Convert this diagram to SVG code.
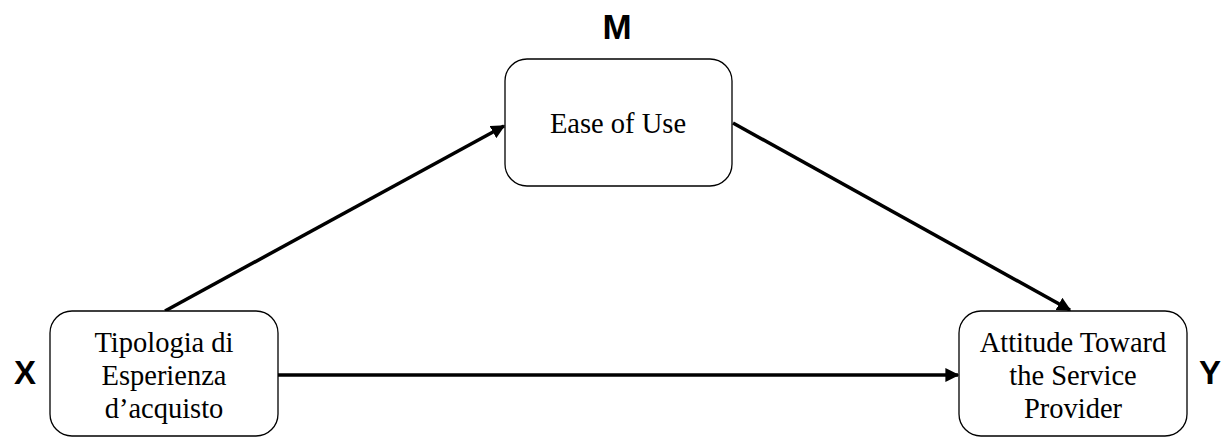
<svg xmlns="http://www.w3.org/2000/svg" width="1225" height="437" viewBox="0 0 1225 437">
<style>
.box{fill:#fff;stroke:#000;stroke-width:1.3}
.t{font-family:"Liberation Serif",serif;font-size:28.5px;fill:#000;text-anchor:middle}
.lab{font-family:"Liberation Sans",sans-serif;font-weight:bold;font-size:33px;fill:#000;text-anchor:middle}
.c{stroke:#000;stroke-width:3.5;fill:none;marker-end:url(#ah)}
</style>
<defs>
<marker id="ah" markerWidth="4" markerHeight="4" refX="3.6" refY="2" orient="auto" markerUnits="strokeWidth">
<path d="M0,0 L4,2 L0,4 z" fill="#000"/>
</marker>
</defs>
<rect width="1225" height="437" fill="#fff"/>
<g id="connectors">
<line class="c" x1="165" y1="311" x2="504" y2="126"/>
<line class="c" x1="733" y1="123" x2="1070" y2="310"/>
<line class="c" x1="278" y1="375" x2="958" y2="375"/>
</g>
<g id="node-M">
<rect class="box" x="505" y="59" width="227" height="127" rx="22"/>
<text class="t" x="618" y="133">Ease of Use</text>
<text class="lab" x="617" y="39" style="font-size:35px">M</text>
</g>
<g id="node-X">
<rect class="box" x="50" y="311" width="228" height="125" rx="22"/>
<text class="t" x="164" y="352">Tipologia di</text>
<text class="t" x="164" y="385">Esperienza</text>
<text class="t" x="164" y="418">d’acquisto</text>
<text class="lab" x="25" y="384">X</text>
</g>
<g id="node-Y">
<rect class="box" x="959" y="311" width="228" height="125" rx="22"/>
<text class="t" x="1073" y="352">Attitude Toward</text>
<text class="t" x="1073" y="385">the Service</text>
<text class="t" x="1073" y="418">Provider</text>
<text class="lab" x="1210" y="384">Y</text>
</g>
</svg>
